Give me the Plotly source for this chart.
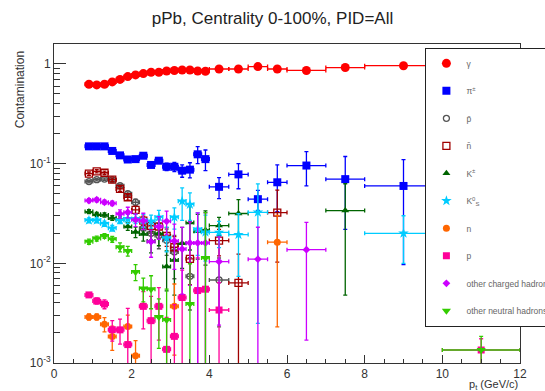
import plotly.graph_objects as go

# bin centres and half widths (GeV/c)
pt = [0.9, 1.1, 1.3, 1.5, 1.7, 1.9, 2.1, 2.3, 2.5, 2.7, 2.9, 3.1, 3.3, 3.5, 3.7, 3.9,
      4.25, 4.75, 5.25, 5.75, 6.5, 7.5, 9.0, 11.0]
pt_err = [0.1] * 16 + [0.25] * 4 + [0.5] * 2 + [1.0] * 2

N = None
gamma = [0.625, 0.616, 0.625, 0.66, 0.70, 0.746, 0.776, 0.80, 0.825, 0.825, 0.85, 0.86, 0.87, 0.87, 0.85, 0.845,
         0.89, 0.89, 0.94, 0.89, 0.86, 0.92, 0.96, 1.0]
gamma_e = [0.008, 0.008, 0.008, 0.009, 0.01, 0.01, 0.011, 0.012, 0.013, 0.014, 0.015, 0.016, 0.018, 0.02, 0.02, 0.022,
           0.02, 0.025, 0.03, 0.035, 0.03, 0.04, 0.04, 0.05]

pipm = [0.149, 0.149, 0.149, 0.134, 0.121, 0.110, 0.111, 0.120, 0.097, 0.107, 0.093, 0.093, 0.085, 0.087, 0.124, 0.111,
        0.0585, 0.078, 0.044, 0.065, 0.0957, 0.0699, 0.0597, N]
pipm_e = [0.003, 0.003, 0.003, 0.003, 0.003, 0.003, 0.004, 0.004, 0.005, 0.006, 0.008, 0.01, 0.012, 0.015, 0.024, 0.026,
          0.014, 0.022, 0.01, 0.032, 0.036, 0.048, 0.05, N]

pbar = [0.066, 0.069, 0.070, 0.069, 0.060, 0.050, 0.041, 0.0225, 0.020, 0.019, 0.017, 0.013, N, 0.0074, N, N,
        0.0068, N, N, N, N, N, N, N]
pbar_e = [0.002, 0.002, 0.002, 0.002, 0.002, 0.002, 0.003, 0.003, 0.004, 0.005, 0.005, 0.006, N, 0.004, N, N,
          0.0045, N, N, N, N, N, N, N]

nbar = [0.0794, 0.0838, 0.081, 0.069, 0.0557, 0.046, 0.0343, 0.0268, 0.0237, 0.0234, 0.0188, 0.0145, N, 0.0111, N, N,
        0.0169, 0.00635, N, 0.0323, N, N, N, N]
nbar_e = [0.003, 0.003, 0.003, 0.003, 0.003, 0.003, 0.003, 0.003, 0.003, 0.004, 0.004, 0.004, N, 0.005, N, N,
          0.005, 0.006, N, 0.022, N, N, N, N]

kpm = [0.033, 0.031, 0.0306, 0.0285, 0.0277, 0.0234, 0.0206, 0.0197, 0.0167, 0.020, 0.0093, 0.0108, 0.0159, 0.0256, 0.021, 0.0216,
       0.0239, 0.0316, N, N, N, 0.0338, N, N]
kpm_e = [0.0015, 0.0015, 0.0015, 0.0015, 0.002, 0.002, 0.0025, 0.003, 0.004, 0.005, 0.004, 0.006, 0.007, 0.012, 0.01, 0.012,
         0.005, 0.012, N, N, N, 0.029, N, N]

k0s = [0.027, 0.027, 0.025, 0.0225, 0.027, 0.028, 0.028, 0.027, 0.0265, 0.029, 0.018, 0.029, 0.042, 0.039, 0.022, 0.0205,
       0.0204, 0.0194, 0.0325, N, N, N, 0.020, N]
k0s_e = [0.0015, 0.0015, 0.0015, 0.0015, 0.002, 0.003, 0.003, 0.004, 0.004, 0.005, 0.005, 0.007, 0.015, 0.012, 0.01, 0.01,
         0.006, 0.012, 0.03, N, N, N, 0.01, N]

neut = [0.0029, 0.0029, 0.00245, 0.00184, N, 0.00232, 0.00118, N, N, N, N, 0.0037, N, N, N, N,
        N, N, N, 0.0163, N, N, N, N]
neut_e = [0.0002, 0.0002, 0.0004, 0.0005, N, 0.0007, 0.0005, N, N, N, N, 0.0025, N, N, N, N,
          N, N, N, 0.014, N, N, N, N]

prot = [0.00482, 0.00419, 0.0039, 0.00216, 0.00215, 0.00153, N, 0.0037, 0.00266, 0.0037, 0.00137, 0.00185, 0.00454, N, 0.00533, 0.0055,
        0.0034, N, N, N, N, N, N, 0.00135]
prot_e = [0.0002, 0.0003, 0.0004, 0.0005, 0.0006, 0.002, N, 0.0015, 0.002, 0.002, 0.0015, 0.002, 0.004, N, 0.006, 0.006,
          0.003, N, N, N, N, N, N, 0.0004]

ochg = [0.0426, 0.0434, 0.041, 0.040, 0.0314, 0.0325, 0.0273, 0.0268, 0.0165, 0.0234, 0.0264, 0.0167, 0.0139, 0.016, 0.016, 0.016,
        0.0104, N, 0.011, N, 0.0137, N, N, N]
ochg_e = [0.002, 0.002, 0.002, 0.002, 0.003, 0.004, 0.004, 0.005, 0.005, 0.006, 0.007, 0.008, 0.009, 0.01, 0.016, 0.016,
          0.008, N, 0.012, N, 0.012, N, N, N]

oneu = [0.0165, 0.0177, 0.0188, 0.0174, 0.0145, 0.0133, 0.0082, 0.0056, 0.0055, 0.0029, 0.0027, N, N, 0.0039, N, 0.0113,
        N, N, N, N, N, N, N, 0.00135]
oneu_e = [0.001, 0.001, 0.001, 0.0012, 0.0015, 0.0015, 0.0015, 0.0015, 0.002, 0.0015, 0.0028, N, N, 0.006, N, 0.021,
          N, N, N, N, N, N, N, 0.0005]

series = [
    ("γ", gamma, gamma_e, "circle", "#ff0000", 9),
    ("π<sup>±</sup>", pipm, pipm_e, "square", "#0000ff", 8),
    ("p̄", pbar, pbar_e, "circle-open", "#555555", 6),
    ("n̄", nbar, nbar_e, "square-open", "#a00000", 7),
    ("K<sup>±</sup>", kpm, kpm_e, "triangle-up", "#006400", 7),
    ("K<sup>0</sup><sub>S</sub>", k0s, k0s_e, "star", "#00ccff", 8),
    ("n", neut, neut_e, "circle", "#ff6600", 7),
    ("p", prot, prot_e, "square", "#ff0099", 7),
    ("other charged hadrons", ochg, ochg_e, "diamond", "#cc00ff", 6),
    ("other neutral hadrons", oneu, oneu_e, "triangle-down", "#33cc00", 8),
]

fig = go.Figure()
for i, (name, y, ye, sym, col, sz) in enumerate(series):
    xs = [p for p, v in zip(pt, y) if v is not None]
    xe = [e for e, v in zip(pt_err, y) if v is not None]
    ys = [v for v in y if v is not None]
    yes = [e for e, v in zip(ye, y) if v is not None]
    fig.add_trace(go.Scatter(
        x=xs, y=ys, mode="markers", name=name, legendgroup=str(i),
        marker=dict(symbol=sym, color=col, size=sz, line=dict(width=1.3 if "open" in sym else 0, color=col)),
        error_y=dict(type="data", array=yes, color=col, thickness=1.3, width=2),
        error_x=dict(type="data", array=xe, color=col, thickness=1.3, width=2),
        cliponaxis=True,
    ))

minor_vals = [m * 10 ** e for e in (-3, -2, -1) for m in range(2, 10)]

fig.update_layout(
    width=545, height=391,
    margin=dict(l=54, r=25, t=44, b=28, autoexpand=False),
    paper_bgcolor="white", plot_bgcolor="white",
    font=dict(family="Liberation Sans, Arial, sans-serif", color="#333333", size=12),
    title=dict(text="pPb, Centrality 0-100%, PID=All", x=0.5, xanchor="center", y=0.953, yanchor="middle",
               font=dict(size=17, color="#222222")),
    showlegend=True,
    legend=dict(x=0.797, y=0.988, xanchor="left", yanchor="top", bgcolor="white",
                bordercolor="#222222", borderwidth=1, traceorder="grouped", tracegroupgap=8.5,
                font=dict(size=8.5, color="#666666"), itemsizing="trace", itemwidth=30),
    xaxis=dict(range=[0, 12], showline=True, linecolor="#333333", linewidth=1, mirror=True,
               ticks="inside", ticklen=8, tickcolor="#333333", dtick=2, tick0=0,
               showgrid=False, zeroline=False, tickfont=dict(size=12, color="#333333"),
               minor=dict(ticks="inside", ticklen=4, dtick=0.5, tickcolor="#333333", showgrid=False)),
    yaxis=dict(type="log", range=[-3, 0.2], showline=True, linecolor="#333333", linewidth=1, mirror=True,
               ticks="inside", ticklen=12, tickcolor="#333333",
               tickvals=[0.001, 0.01, 0.1, 1],
               ticktext=["10<sup>-3</sup>", "10<sup>-2</sup>", "10<sup>-1</sup>", "1"],
               showgrid=False, zeroline=False, tickfont=dict(size=12, color="#333333"),
               minor=dict(ticks="inside", ticklen=6, tickvals=minor_vals, tickcolor="#333333", showgrid=False)),
    annotations=[
        dict(text="Contamination", textangle=-90, x=-0.073, y=0.985, xref="paper", yref="paper",
             xanchor="center", yanchor="top", showarrow=False, font=dict(size=12, color="#333333")),
        dict(text="p<sub>t</sub> (GeV/c)", x=1.0, y=-0.04, xref="paper", yref="paper",
             xanchor="right", yanchor="top", showarrow=False, font=dict(size=11, color="#333333")),
    ],
)

fig.write_html("out.html")
